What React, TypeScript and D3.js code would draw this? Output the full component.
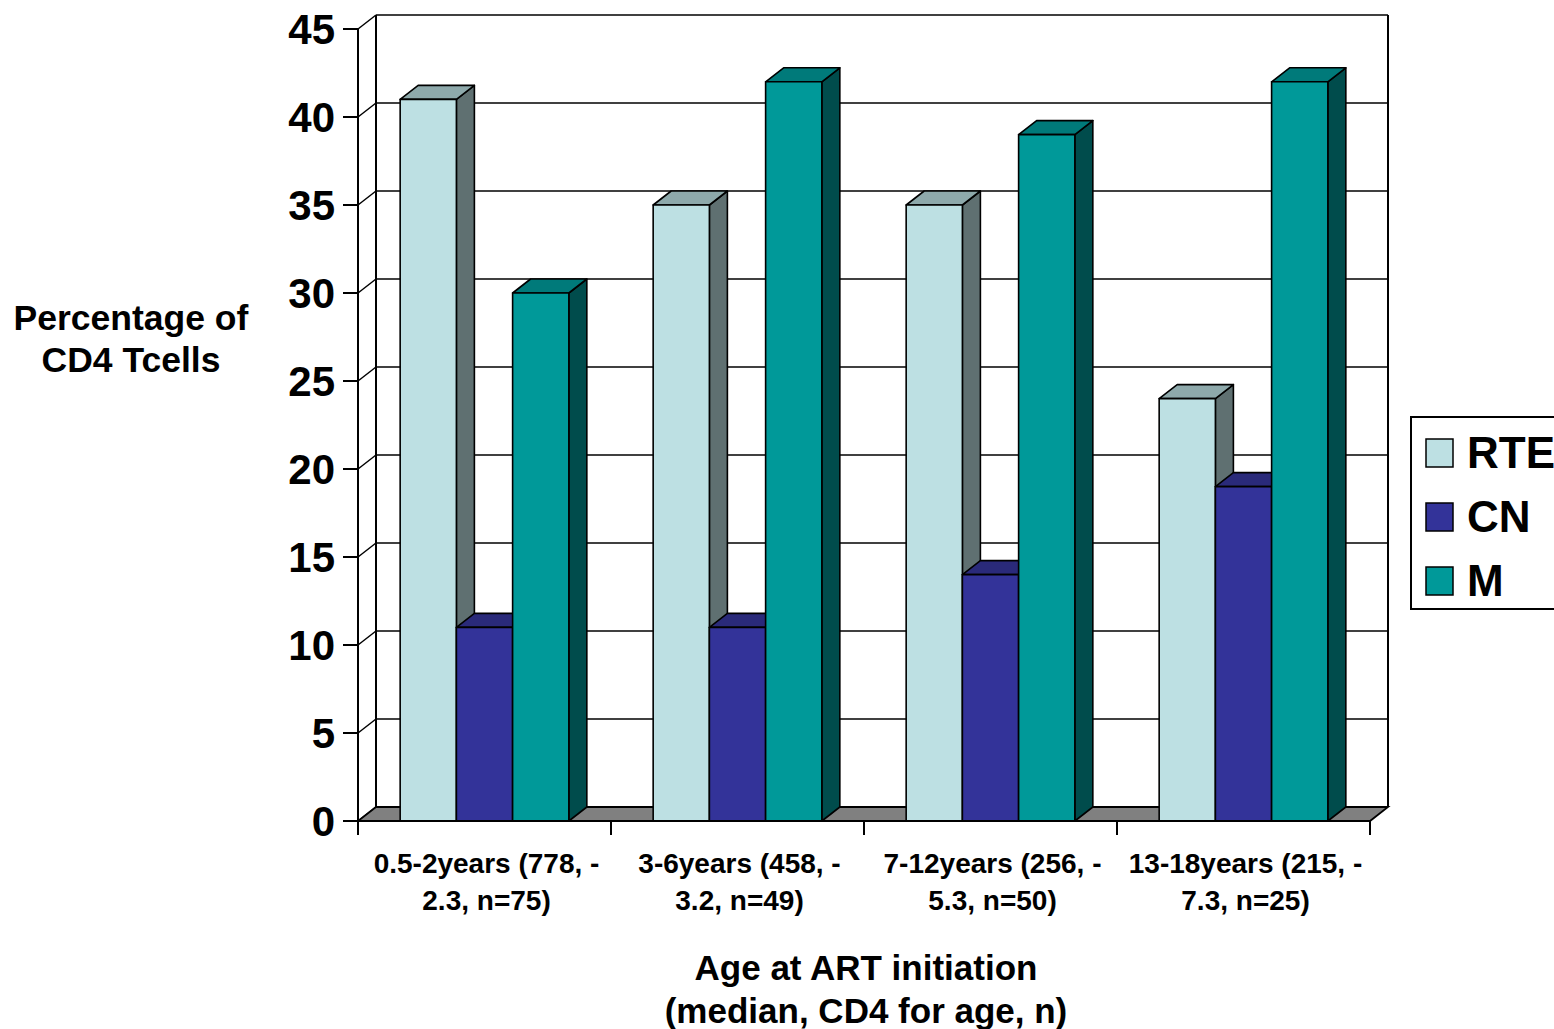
import React from "react";
import * as d3 from "d3";

const categoryLine1 = ["0.5-2years (778, -", "3-6years (458, -", "7-12years (256, -", "13-18years (215, -"];
const categoryLine2 = ["2.3, n=75)", "3.2, n=49)", "5.3, n=50)", "7.3, n=25)"];
const seriesNames = ["RTE", "CN", "M"];
const rteValues = [41, 35, 35, 24];
const cnValues = [11, 11, 14, 19];
const mValues = [30, 42, 39, 42];
const yTicks = [0, 5, 10, 15, 20, 25, 30, 35, 40, 45];

const faceColors: Record<string, { front: string; top: string; side: string }> = {
  RTE: { front: "#BDE0E3", top: "#8EA9AB", side: "#5F7071" },
  CN: { front: "#333399", top: "#2A2A7A", side: "#1C1C55" },
  M: { front: "#009999", top: "#007A7A", side: "#004C4C" },
};

const FONT = "'Liberation Sans', Arial, Helvetica, sans-serif";

export default function App() {
  const W = 1554, H = 1029;
  const left = 358, right = 1370;
  const DX = 18, DY = -14;
  const y = d3.scaleLinear().domain([0, 45]).range([821, 29]);
  const x0 = d3.scaleBand<number>().domain([0, 1, 2, 3]).range([left, right]).padding(0);
  const x1 = d3.scaleBand<string>().domain(seriesNames).range([0, x0.bandwidth()]).paddingInner(0).paddingOuter(0.75);
  const valuesBySeries: Record<string, number[]> = { RTE: rteValues, CN: cnValues, M: mValues };
  const y0 = y(0);

  const poly = (pts: [number, number][]) => pts.map((p) => p.join(",")).join(" ");

  const bars: React.ReactNode[] = [];
  [0, 1, 2, 3].forEach((ci) => {
    seriesNames.forEach((s) => {
      const v = valuesBySeries[s][ci];
      const xl = (x0(ci) as number) + (x1(s) as number);
      const xr = xl + x1.bandwidth();
      const yt = y(v);
      const c = faceColors[s];
      bars.push(
        <g key={`${ci}-${s}`} stroke="#000" strokeWidth={1.6} strokeLinejoin="round">
          <polygon points={poly([[xr, y0], [xr + DX, y0 + DY], [xr + DX, yt + DY], [xr, yt]])} fill={c.side} />
          <polygon points={poly([[xl, yt], [xr, yt], [xr + DX, yt + DY], [xl + DX, yt + DY]])} fill={c.top} />
          <rect x={xl} y={yt} width={xr - xl} height={y0 - yt} fill={c.front} />
        </g>
      );
    });
  });

  return (
    <div style={{ position: "absolute", left: 0, top: 0 }}>
      <svg width={W} height={H} style={{ display: "block", background: "#fff" }} fontFamily={FONT}>
        {/* back wall gridlines */}
        {yTicks.map((t) => (
          <line key={`g${t}`} x1={left + DX} x2={right + DX} y1={y(t) + DY} y2={y(t) + DY} stroke="#000" strokeWidth={1.5} />
        ))}
        {/* side wall diagonals */}
        {yTicks.map((t) => (
          <line key={`d${t}`} x1={left} y1={y(t)} x2={left + DX} y2={y(t) + DY} stroke="#000" strokeWidth={1.5} />
        ))}
        {/* back wall verticals */}
        <line x1={left + DX} x2={left + DX} y1={y(45) + DY} y2={y0 + DY} stroke="#000" strokeWidth={2} />
        <line x1={right + DX} x2={right + DX} y1={y(45) + DY} y2={y0 + DY} stroke="#000" strokeWidth={2} />
        {/* floor */}
        <polygon points={poly([[left, y0], [right, y0], [right + DX, y0 + DY], [left + DX, y0 + DY]])} fill="#808080" stroke="#000" strokeWidth={1.8} />
        {bars}
        {/* front floor line and axis */}
        <line x1={left} x2={right} y1={y0} y2={y0} stroke="#000" strokeWidth={2} />
        <line x1={left} x2={left} y1={y(45)} y2={835} stroke="#000" strokeWidth={2} />
        {yTicks.map((t) => (
          <g key={`t${t}`}>
            <line x1={343} x2={left} y1={y(t)} y2={y(t)} stroke="#000" strokeWidth={2} />
            <text x={335} y={y(t)} textAnchor="end" dominantBaseline="central" fontSize={42} fontWeight="bold">{t}</text>
          </g>
        ))}
        {[1, 2, 3, 4].map((i) => {
          const xx = left + i * x0.step();
          return <line key={`xt${i}`} x1={xx} x2={xx} y1={y0} y2={835} stroke="#000" strokeWidth={2} />;
        })}
        {/* category labels */}
        {[0, 1, 2, 3].map((ci) => {
          const cx = (x0(ci) as number) + x0.bandwidth() / 2 + 2;
          return (
            <text key={`cl${ci}`} textAnchor="middle" fontSize={28} fontWeight="bold">
              <tspan x={cx} y={873}>{categoryLine1[ci]}</tspan>
              <tspan x={cx} y={910}>{categoryLine2[ci]}</tspan>
            </text>
          );
        })}
        {/* axis titles */}
        <text textAnchor="middle" fontSize={35} fontWeight="bold">
          <tspan x={866} y={980}>Age at ART initiation</tspan>
          <tspan x={866} y={1023}>(median, CD4 for age, n)</tspan>
        </text>
        <text textAnchor="middle" fontSize={35.5} fontWeight="bold">
          <tspan x={131} y={330}>Percentage of</tspan>
          <tspan x={131} y={372}>CD4 Tcells</tspan>
        </text>
        {/* legend */}
        <rect x={1411} y={417} width={170} height={192} fill="#fff" stroke="#000" strokeWidth={2} />
        {seriesNames.map((s, i) => (
          <g key={`lg${s}`}>
            <rect x={1426} y={439 + i * 64} width={27} height={28} fill={faceColors[s].front} stroke="#000" strokeWidth={1.5} />
            <text x={1467} y={468 + i * 64} fontSize={44} fontWeight="bold">{s}</text>
          </g>
        ))}
      </svg>
    </div>
  );
}
